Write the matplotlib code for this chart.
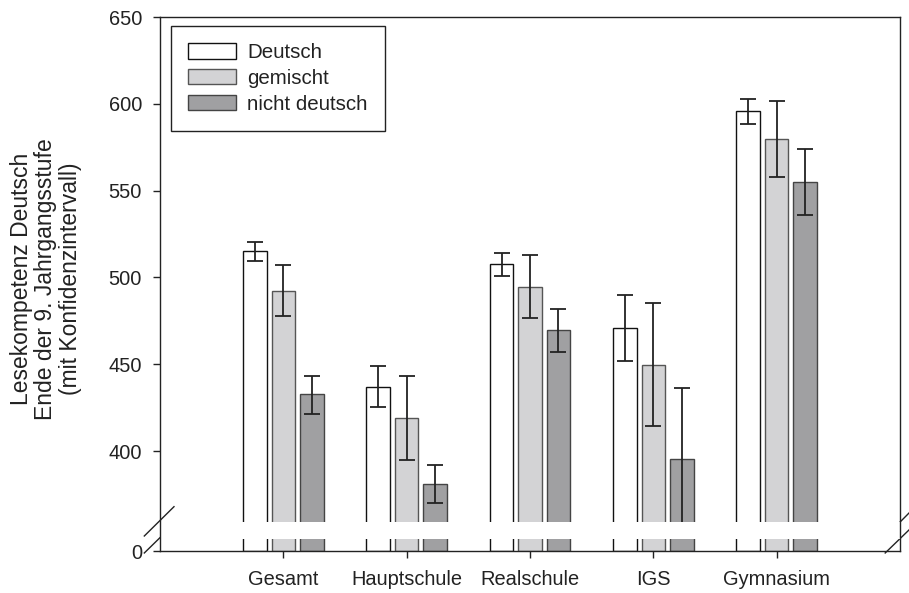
"""Lesekompetenz Deutsch nach Schulform und Familiensprache (gebrochene y-Achse)."""

import matplotlib

matplotlib.use("Agg")
import matplotlib.pyplot as plt
import numpy as np
from matplotlib.patches import Rectangle

# Data
categories = ["Gesamt", "Hauptschule", "Realschule", "IGS", "Gymnasium"]
series_names = ["Deutsch", "gemischt", "nicht deutsch"]

deutsch = [515.2, 437.0, 507.5, 470.6, 595.7]
deutsch_lo = [509.6, 425.3, 500.6, 451.8, 588.6]
deutsch_hi = [520.6, 448.8, 514.2, 489.9, 602.8]

gemischt = [492.3, 419.2, 494.6, 449.8, 579.7]
gemischt_lo = [477.6, 395.0, 476.8, 414.6, 558.0]
gemischt_hi = [507.3, 443.2, 512.9, 485.4, 601.6]

nicht_deutsch = [432.7, 381.0, 469.5, 395.4, 554.9]
nicht_deutsch_lo = [421.5, 369.9, 457.2, 354.3, 536.1]
nicht_deutsch_hi = [443.4, 391.9, 481.8, 436.5, 574.0]

y_ticks = [400, 450, 500, 550, 600, 650]


class Style:
    """Plot constants."""

    FIGSIZE = (9.09, 5.93)
    DPI = 100
    FONT = "Liberation Sans"
    TICK_SIZE = 14.4
    LEGEND_SIZE = 14.8
    LABEL_SIZE = 16.5
    LINE = "#222222"
    COLORS = ["#ffffff", "#d3d3d5", "#a0a0a2"]
    EDGES = ["#111111", "#555555", "#444444"]
    BAR_WIDTH = 0.19
    OFFSET = 0.231
    Y0 = 342.4  # where the "0" sits after the break
    BREAK = (349.3, 359.3)


plt.rcParams["font.family"] = [Style.FONT, "DejaVu Sans"]

fig = plt.figure(figsize=Style.FIGSIZE, dpi=Style.DPI)
ax = fig.add_axes([160 / 909, 42 / 593, 740 / 909, 534 / 593])

x = np.arange(len(categories))
values = [deutsch, gemischt, nicht_deutsch]
lows = [deutsch_lo, gemischt_lo, nicht_deutsch_lo]
highs = [deutsch_hi, gemischt_hi, nicht_deutsch_hi]

for i, name in enumerate(series_names):
    pos = x + (i - 1) * Style.OFFSET
    v = np.array(values[i])
    ax.bar(pos, v - Style.Y0, bottom=Style.Y0, width=Style.BAR_WIDTH,
           color=Style.COLORS[i], edgecolor=Style.EDGES[i], linewidth=1.0,
           label=name, zorder=2)
    yerr = [v - np.array(lows[i]), np.array(highs[i]) - v]
    ax.errorbar(pos, v, yerr=yerr, fmt="none", ecolor=Style.LINE,
                elinewidth=1.3, capsize=6, capthick=1.3, zorder=2.2)

# white gap for the axis break
ax.add_patch(Rectangle((-1, Style.BREAK[0]), 6, Style.BREAK[1] - Style.BREAK[0],
                       facecolor="white", edgecolor="none", zorder=2.4))

ax.set_xlim(-1, 5)
ax.set_ylim(Style.Y0, 650)
ax.set_yticks([Style.Y0] + y_ticks)
ax.set_yticklabels(["0"] + [str(t) for t in y_ticks])
ax.set_xticks(x)
ax.set_xticklabels(categories)
ax.tick_params(axis="both", labelsize=Style.TICK_SIZE, length=5, width=1.0,
               color=Style.LINE, labelcolor=Style.LINE)
ax.tick_params(axis="y", pad=8)
ax.tick_params(axis="x", pad=9)

for spine in ax.spines.values():
    spine.set_linewidth(1.0)
    spine.set_color(Style.LINE)
    spine.set_zorder(2.5)

# break marks
kw = dict(transform=ax.transAxes, color=Style.LINE, lw=1.0, clip_on=False)
ax.plot([-0.0212, 0.0189], [0.0281, 0.083], **kw)
ax.plot([-0.0212, 0.0189], [-0.0037, 0.0506], **kw)
ax.plot([0.98, 1.0135], [0.0262, 0.073], **kw)
ax.plot([0.98, 1.0135], [-0.0037, 0.0412], **kw)

fig.text(46 / 909, 1 - 279 / 593,
         "Lesekompetenz Deutsch\nEnde der 9. Jahrgangsstufe\n(mit Konfidenzintervall)",
         rotation=90, ha="center", va="center", multialignment="center",
         fontsize=Style.LABEL_SIZE, color=Style.LINE, linespacing=1.1)

leg = ax.legend(loc="upper left", bbox_to_anchor=(0.0149, 0.9837), borderaxespad=0,
                fontsize=Style.LEGEND_SIZE, fancybox=False, framealpha=1,
                edgecolor=Style.LINE, handlelength=2.3, handleheight=0.76,
                handletextpad=0.55, labelspacing=0.33, borderpad=0.85)
leg.get_frame().set_linewidth(1.0)
for t in leg.get_texts():
    t.set_color(Style.LINE)

fig.savefig("out.png", dpi=Style.DPI)
